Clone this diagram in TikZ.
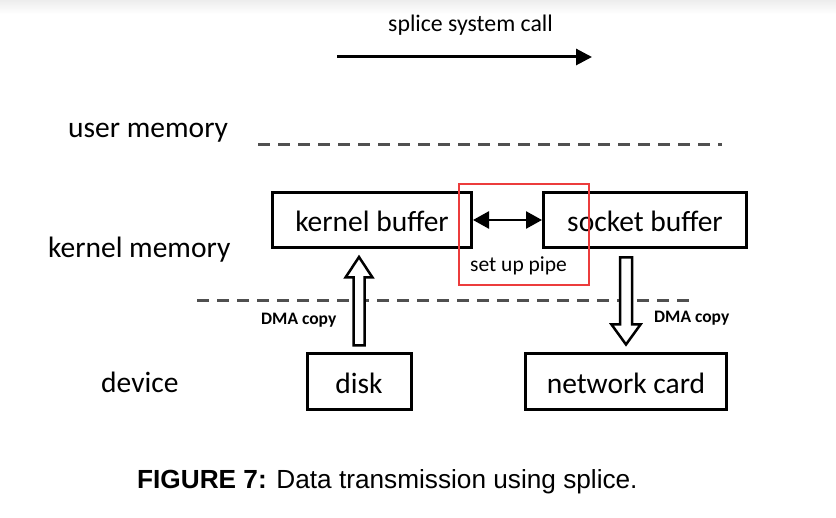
\documentclass[tikz,border=0pt]{standalone}
\usepackage{fontspec}
\setmainfont{Carlito}
\newfontfamily\capfont{Liberation Sans}
\usetikzlibrary{arrows.meta,calc}
\definecolor{dashgray}{RGB}{80,80,80}
\definecolor{markred}{RGB}{236,60,60}

\begin{document}
\begin{tikzpicture}[x=1pt,y=-1pt,
  box/.style={draw,line width=3pt,inner sep=0pt,text height=23pt,text depth=0pt,
    font=\fontsize{29.5}{31}\selectfont},
  layerlabel/.style={anchor=base west,inner sep=0pt,font=\fontsize{29.5}{31}\selectfont},
  smalllabel/.style={anchor=base west,inner sep=0pt,font=\bfseries\fontsize{17.5}{19}\selectfont},
  divider/.style={draw=dashgray,line width=3pt,dash pattern=on 12pt off 8pt},
  hollow/.style={draw,line width=2.5pt,fill=white,line join=miter},
  callarrow/.style={line width=3pt,-{Triangle[length=16pt,width=16pt]}},
  pipearrow/.style={line width=2.5pt,{Triangle[length=16pt,width=17pt]}-{Triangle[length=16pt,width=17pt]}},
]
\useasboundingbox (0,0) rectangle (836,518);
\shade[top color=black!7,bottom color=white] (0,0) rectangle (836,14);

% system call arrow
\node[anchor=base west,inner sep=0pt,font=\fontsize{23.8}{25}\selectfont] (call) at (388,32) {splice system call};
\coordinate (callstart) at (337,57);
\coordinate (callend) at (592,57);
\draw[callarrow] (callstart) -- (callend);

% layer labels
\node[layerlabel] (user) at (68,138) {user memory};
\node[layerlabel] (kmem) at (48,258) {kernel memory};
\node[layerlabel] (dev) at (101,393) {device};

% layer dividers
\coordinate (u1) at (258,145);
\coordinate (u2) at (722,145);
\coordinate (k1) at (197,301);
\coordinate (k2) at (692,301);
\draw[divider] (u1) -- (u2);
\draw[divider] (k1) -- (k2);

% buffers and devices
\node[box,minimum width=199pt,minimum height=55pt] (kbuf) at (372,220) {kernel buffer};
\node[box,minimum width=203pt,minimum height=55pt] (sbuf) at (645,220) {socket buffer};
\node[box,minimum width=104pt,minimum height=56pt] (disk) at (359,382) {disk};
\node[box,minimum width=201pt,minimum height=56pt] (nic) at (626,382) {network card};

% pipe between the buffers
\draw[pipearrow] (kbuf.east) -- (sbuf.west);
\node[anchor=base west,inner sep=0pt,font=\fontsize{21.5}{23}\selectfont] (pipe) at (470,272) {set up pipe};
\coordinate (m1) at (459,184);
\coordinate (m2) at (589,285);
\draw[markred,line width=1.2pt] (m1) rectangle (m2);

% DMA copy: disk up to kernel buffer (let values are canvas points, y up)
\draw[hollow]
  let \p1 = (disk.north), \p2 = (kbuf.south) in
  (\x1,\y2-8) -- (\x1+13.5,\y2-28.5) -- (\x1+5.5,\y2-28.5) -- (\x1+5.5,\y1+7)
  -- (\x1-5.5,\y1+7) -- (\x1-5.5,\y2-28.5) -- (\x1-13.5,\y2-28.5) -- cycle;
\node[smalllabel] (dma1) at (261,325) {DMA copy};

% DMA copy: socket buffer down to network card
\draw[hollow]
  let \p1 = (nic.north), \p2 = (sbuf.south) in
  (\x1-6,\y2-8.5) -- (\x1+6,\y2-8.5) -- (\x1+6,\y1+28) -- (\x1+14.5,\y1+28)
  -- (\x1,\y1+8) -- (\x1-14.5,\y1+28) -- (\x1-6,\y1+28) -- cycle;
\node[smalllabel] (dma2) at (654,323) {DMA copy};

% caption
\node[anchor=base west,inner sep=0pt,font=\capfont\fontsize{26.2}{28}\selectfont] (caption) at (137,489)
  {\textbf{FIGURE 7:} Data transmission using splice.};
\end{tikzpicture}
\end{document}
